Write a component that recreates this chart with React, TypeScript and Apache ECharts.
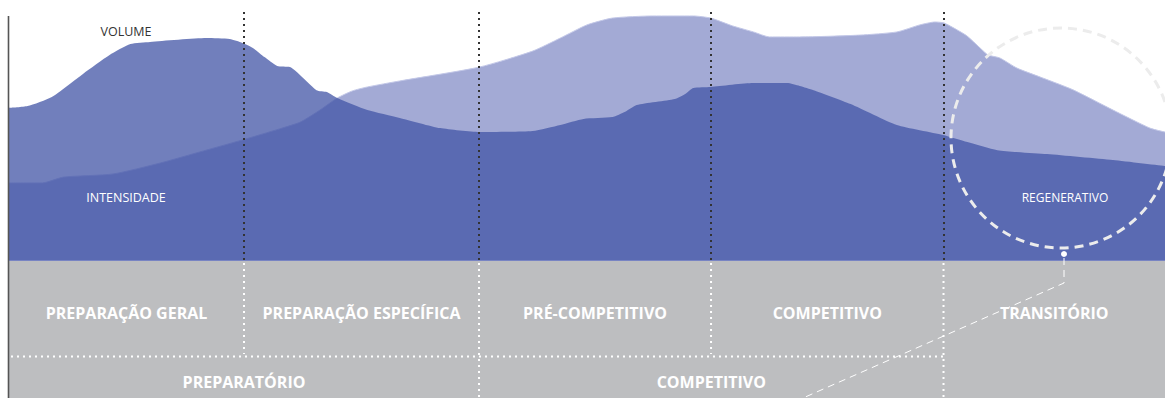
import { useEffect, useRef } from 'react';
import * as echarts from 'echarts';

// x: position along the macrocycle (0–100 %), y: relative load (0–100)
const intensity: [number, number][] = [
  [0, 30.2], [2.9, 30.2], [4.7, 32.4], [9.0, 33.6], [13.1, 37.8], [16.5, 42.0],
  [20.2, 46.6], [23.4, 50.8], [25.2, 53.4], [26.9, 58.0], [28.4, 62.6], [29.7, 65.3],
  [31.0, 66.8], [33.8, 69.1], [40.7, 74.4], [45.3, 80.5], [47.7, 85.5], [50.0, 90.5],
  [52.2, 93.1], [55.7, 93.9], [59.2, 93.9], [60.7, 93.1], [62.6, 90.1], [64.4, 87.8],
  [65.8, 85.9], [68.4, 85.9], [73.6, 86.6], [76.8, 87.8], [78.8, 90.5], [80.1, 91.6],
  [80.9, 91.2], [82.8, 86.5], [84.0, 81.7], [84.7, 79.0], [85.7, 77.9], [87.2, 74.0],
  [89.2, 70.6], [92.0, 65.8], [95.5, 58.0], [98.7, 51.1], [100, 49.6],
];

const volume: [number, number][] = [
  [0, 58.8], [1.6, 59.5], [3.7, 63.0], [6.4, 71.8], [8.7, 79.0], [10.5, 83.2],
  [12.2, 84.0], [17.1, 85.5], [19.1, 85.1], [20.2, 83.6], [21.1, 81.7], [22.1, 78.2],
  [23.2, 74.8], [24.3, 74.4], [24.9, 72.5], [26.6, 65.6], [27.5, 64.9], [28.4, 62.6],
  [31.0, 58.0], [33.8, 55.0], [37.3, 51.1], [40.7, 49.6], [45.3, 50.0], [47.7, 52.3],
  [49.7, 54.6], [52.2, 55.3], [53.3, 57.3], [54.3, 59.9], [57.6, 62.2], [58.5, 64.1],
  [59.2, 66.4], [60.7, 66.8], [64.4, 68.3], [67.3, 68.3], [68.4, 67.2], [69.6, 65.6],
  [72.8, 60.3], [76.8, 52.3], [80.8, 48.5], [82.9, 45.8], [85.5, 42.7], [89.8, 41.2],
  [95.5, 38.9], [100, 36.6],
];

const phaseBounds = [0, 20.33, 40.66, 60.73, 80.84, 100];
const phaseNames = ['PREPARAÇÃO GERAL', 'PREPARAÇÃO ESPECÍFICA', 'PRÉ-COMPETITIVO', 'COMPETITIVO', 'TRANSITÓRIO'];
const periodBounds = [0, 40.66, 80.84];
const periodNames = ['PREPARATÓRIO', 'COMPETITIVO'];
const dividerTop = 95.4;

const W = 1165;
const H = 398;

export default function App() {
  const ref = useRef<HTMLDivElement>(null);
  useEffect(() => {
    document.body.style.margin = '0';
    const chart = echarts.init(ref.current!, null, { renderer: 'svg' });
    chart.setOption({
      animation: false,
      grid: { left: 9, right: 0, top: 0, height: 262 },
      xAxis: { type: 'value', min: 0, max: 100, show: false },
      yAxis: { type: 'value', min: 0, max: 100, show: false },
      series: [
        {
          name: 'Intensidade', type: 'line', data: intensity, smooth: 0.2, symbol: 'none', z: 2,
          lineStyle: { width: 1, color: '#c3c8e8' },
          areaStyle: { color: '#a3aad5', opacity: 1 },
        },
        {
          name: 'Volume', type: 'line', data: volume, smooth: 0.2, symbol: 'none', z: 3,
          lineStyle: { width: 0, opacity: 0 },
          areaStyle: { color: 'rgba(66,84,166,0.75)', opacity: 1 },
          markLine: {
            silent: true, symbol: 'none', label: { show: false },
            lineStyle: { type: [2, 4], width: 2, color: '#333' },
            data: phaseBounds.slice(1, -1).map((x) => [{ coord: [x, dividerTop] }, { coord: [x, 0] }]),
          },
        },
      ],
    });

    const px = (x: number) => chart.convertToPixel({ xAxisIndex: 0 }, x) as number;
    const x0 = px(0);
    const bandTop = 261;
    const dot = { stroke: '#ffffff', lineWidth: 2, lineDash: [2, 4] };
    const g: any[] = [];
    const add = (el: any) => g.push({ z: 100, silent: true, ...el });
    add({ type: 'rect', shape: { x: x0, y: bandTop, width: W - x0, height: H - bandTop }, style: { fill: '#bdbec0' } });
    add({ type: 'line', shape: { x1: x0, y1: bandTop - 0.5, x2: W, y2: bandTop - 0.5 }, style: { stroke: '#7884c3', lineWidth: 1 } });
    add({ type: 'line', shape: { x1: x0 - 0.5, y1: 16, x2: x0 - 0.5, y2: H }, style: { stroke: '#555555', lineWidth: 1.6 } });

    phaseBounds.slice(1, -1).forEach((b) => {
      const x = px(b);
      const full = periodBounds.includes(b);
      add({ type: 'line', shape: { x1: x, y1: bandTop + 2, x2: x, y2: full ? H : 354 }, style: dot });
    });
    add({ type: 'line', shape: { x1: x0 + 2, y1: 356.5, x2: px(periodBounds[2]), y2: 356.5 }, style: dot });

    const label = (text: string, x: number, y: number, font: string, fill: string) => ({
      type: 'text', x, y,
      style: { text, font, fill, textAlign: 'center', textVerticalAlign: 'middle' },
    });
    const bold = 'bold 16px "Open Sans"';
    phaseNames.forEach((n, i) => {
      add(label(n, (px(phaseBounds[i]) + px(phaseBounds[i + 1])) / 2, 313, bold, '#ffffff'));
    });
    periodNames.forEach((n, i) => {
      add(label(n, (px(periodBounds[i]) + px(periodBounds[i + 1])) / 2, 382, bold, '#ffffff'));
    });

    // regenerative annotation
    add({ type: 'circle', shape: { cx: 1061, cy: 138, r: 110 }, style: { fill: 'none', stroke: '#ececec', lineWidth: 3, lineDash: [9, 6] } });
    add({ type: 'polyline', shape: { points: [[1064, 258], [1064, 283], [803, 398]] }, style: { fill: 'none', stroke: '#ffffff', lineWidth: 1, lineDash: [7, 5] } });
    add({ type: 'circle', shape: { cx: 1064, cy: 254, r: 3 }, style: { fill: '#ffffff' } });

    add(label('VOLUME', 126, 31, '12.5px "Open Sans"', '#333333'));
    add(label('INTENSIDADE', 126, 197, '12.5px "Open Sans"', '#ffffff'));
    add(label('REGENERATIVO', 1065, 197, '12px "Open Sans"', '#ffffff'));

    chart.setOption({ graphic: g });
    return () => chart.dispose();
  }, []);
  return <div ref={ref} style={{ position: 'absolute', left: 0, top: 0, width: W, height: H }} />;
}
